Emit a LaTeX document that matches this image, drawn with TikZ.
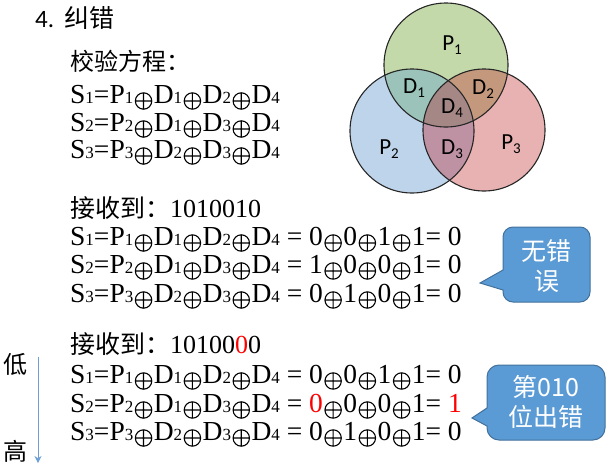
\documentclass[tikz,border=0pt]{standalone}
\usepackage{fontspec}
\setmainfont{Liberation Serif}
\newfontfamily\cjk{Noto Sans CJK SC}
\newfontfamily\calib{Carlito}
\usetikzlibrary{arrows.meta}
\definecolor{vgreen}{RGB}{195,217,170}
\definecolor{vblue}{RGB}{190,212,235}
\definecolor{vred}{RGB}{232,178,178}
\definecolor{vgb}{RGB}{155,195,185}
\definecolor{vgr}{RGB}{196,152,125}
\definecolor{vbr}{RGB}{190,146,163}
\definecolor{vall}{RGB}{165,136,134}
\definecolor{cfill}{RGB}{91,155,213}
\definecolor{cline}{RGB}{65,113,156}
\definecolor{arrblue}{RGB}{110,160,215}
\newcommand{\subd}[1]{{\fontsize{17}{17}\selectfont #1}}
\newcommand{\xo}{\kern1.5pt\tikz[x=1pt,y=1pt,baseline=0pt,line width=1.1pt]{\draw[black] (0,2) circle (8.2) (-8.2,2) -- (8.2,2) (0,-6.2) -- (0,10.2);}\kern1.5pt}
\newcommand{\vsub}[1]{\raisebox{-0.35ex}{\fontsize{15}{15}\selectfont #1}}
\newcommand{\eqA}{S\subd1=P\subd1\xo D\subd1\xo D\subd2\xo D\subd4}
\newcommand{\eqB}{S\subd2=P\subd2\xo D\subd1\xo D\subd3\xo D\subd4}
\newcommand{\eqC}{S\subd3=P\subd3\xo D\subd2\xo D\subd3\xo D\subd4}
\tikzset{
  eq/.style={anchor=base west, inner sep=0pt, font=\fontsize{27.5}{27.5}\selectfont},
  rec/.style={anchor=base west, inner sep=0pt, font=\fontsize{26}{26}\selectfont},
  cjkline/.style={anchor=base west, inner sep=0pt, font=\fontsize{24}{24}\selectfont\cjk},
  vlabel/.style={inner sep=0pt, font=\fontsize{23}{23}\selectfont\calib},
  circ/.style={draw=black!85, line width=1.1pt},
  callout/.style={fill=cfill, draw=cline, line width=1pt},
  calltext/.style={inner sep=0pt, align=center, text=white, font=\fontsize{25}{30}\selectfont\cjk},
}
\begin{document}
\begin{tikzpicture}[x=1pt,y=-1pt]
\useasboundingbox (0,0) rectangle (608,466);
% heading
\node[anchor=base west, inner sep=0pt, font=\fontsize{25}{25}\selectfont] (head) at (35,27) {{\calib 4.}\hspace{10pt}{\cjk 纠错}};
\node[cjkline] (jy) at (70,70) {校验方程：};
\node[eq] (e1) at (70,103) {\eqA};
\node[eq] (e2) at (70,131) {\eqB};
\node[eq] (e3) at (70,158) {\eqC};
% first reception
\node[rec] (r1) at (70,217) {{\cjk\fontsize{25}{25}\selectfont 接收到：}1010010};
\node[eq] (a1) at (70,245) {\eqA{} = 0\xo0\xo1\xo1= 0};
\node[eq] (a2) at (70,273) {\eqB{} = 1\xo0\xo0\xo1= 0};
\node[eq] (a3) at (70,302) {\eqC{} = 0\xo1\xo0\xo1= 0};
% second reception
\node[rec] (r2) at (70,353) {{\cjk\fontsize{25}{25}\selectfont 接收到：}10100{\color{red}0}0};
\node[eq] (b1) at (70,383) {\eqA{} = 0\xo0\xo1\xo1= 0};
\node[eq] (b2) at (70,412) {\eqB{} = {\color{red}0}\xo0\xo0\xo1= {\color{red}1}};
\node[eq] (b3) at (70,440) {\eqC{} = 0\xo1\xo0\xo1= 0};
% low -> high
\node[inner sep=0pt, font=\fontsize{24}{24}\selectfont\cjk] (low) at (16,364) {低};
\node[inner sep=0pt, font=\fontsize{24}{24}\selectfont\cjk] (high) at (16,451) {高};
\coordinate (atop) at (38,357);
\coordinate (abot) at (38,463);
\draw[arrblue, line width=0.9pt, -{Stealth[length=7pt,width=7pt]}] (atop) -- (abot);
% Venn diagram
\coordinate (cg) at (446,65);
\coordinate (cb) at (412,131);
\coordinate (cr) at (484,130);
\fill[vgreen] (cg) circle (62);
\fill[vblue] (cb) circle (62);
\fill[vred] (cr) circle (61);
\begin{scope}
  \clip (cg) circle (62);
  \fill[vgb] (cb) circle (62);
  \fill[vgr] (cr) circle (61);
\end{scope}
\begin{scope}
  \clip (cb) circle (62);
  \fill[vbr] (cr) circle (61);
\end{scope}
\begin{scope}
  \clip (cg) circle (62);
  \clip (cb) circle (62);
  \fill[vall] (cr) circle (61);
\end{scope}
\draw[circ] (cg) circle (62);
\draw[circ] (cb) circle (62);
\draw[circ] (cr) circle (61);
\node[vlabel] (p1) at (452,45) {P\vsub1};
\node[vlabel] (d1) at (414,88) {D\vsub1};
\node[vlabel] (d2) at (483,89) {D\vsub2};
\node[vlabel] (d4) at (452,108) {D\vsub4};
\node[vlabel] (p2) at (389,149) {P\vsub2};
\node[vlabel] (d3) at (452,149) {D\vsub3};
\node[vlabel] (p3) at (511,144) {P\vsub3};
% callout 1
\draw[callout] (503,270) [rounded corners=10pt] -- (503,227) -- (590,227) -- (590,302) -- (503,302) [sharp corners] -- (503,290) -- (480,283) -- cycle;
\node[calltext] (c1) at (546.5,266) {无错\\误};
% callout 2
\draw[callout] (487,408) [rounded corners=12pt] -- (487,365) -- (605,365) -- (605,440) -- (487,440) [sharp corners] -- (487,426) -- (472,418) -- cycle;
\node[calltext] (c2) at (546,402) {第010\\位出错};
\end{tikzpicture}
\end{document}
